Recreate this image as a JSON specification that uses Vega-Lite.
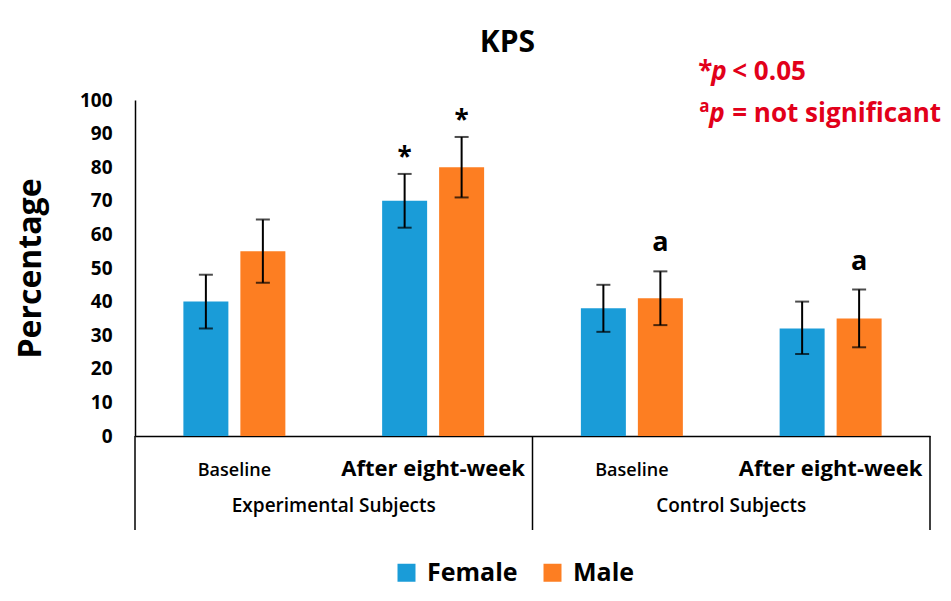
{
  "$schema": "https://vega.github.io/schema/vega-lite/v6.json",
  "width": 795,
  "height": 336,
  "autosize": {"type": "none"},
  "padding": {"left": 135, "top": 100, "right": 21, "bottom": 165},
  "background": "white",
  "config": {
    "font": "Open Sans",
    "view": {"stroke": null},
    "text": {"font": "Open Sans", "fontWeight": "bold", "color": "#000"},
    "axisY": {
      "titleFont": "Open Sans",
      "titleFontSize": 32,
      "titleFontWeight": "bold",
      "titleColor": "#000",
      "titlePadding": 32,
      "labelOverlap": false,
      "labelFont": "Open Sans",
      "labelFontSize": 19,
      "labelFontWeight": "bold",
      "labelColor": "#000",
      "labelPadding": 23,
      "ticks": false,
      "tickSize": 0,
      "grid": false,
      "domainColor": "#000",
      "domainWidth": 1.5
    }
  },
  "title": {
    "text": "KPS",
    "font": "Open Sans",
    "fontSize": 30,
    "fontWeight": "bold",
    "color": "#000",
    "dx": -25,
    "dy": 29,
    "offset": 30
  },
  "data": {
    "values": [
      {"group": "Experimental Subjects", "period": "Baseline", "slot": "Experimental Subjects|Baseline", "sex": "Female", "value": 40, "lo": 32, "hi": 48, "mark": ""},
      {"group": "Experimental Subjects", "period": "Baseline", "slot": "Experimental Subjects|Baseline", "sex": "Male", "value": 55, "lo": 45.6, "hi": 64.4, "mark": ""},
      {"group": "Experimental Subjects", "period": "After eight-week", "slot": "Experimental Subjects|After eight-week", "sex": "Female", "value": 70, "lo": 62, "hi": 78, "mark": "*"},
      {"group": "Experimental Subjects", "period": "After eight-week", "slot": "Experimental Subjects|After eight-week", "sex": "Male", "value": 80, "lo": 71, "hi": 89, "mark": "*"},
      {"group": "Control Subjects", "period": "Baseline", "slot": "Control Subjects|Baseline", "sex": "Female", "value": 38, "lo": 31, "hi": 45, "mark": ""},
      {"group": "Control Subjects", "period": "Baseline", "slot": "Control Subjects|Baseline", "sex": "Male", "value": 41, "lo": 33, "hi": 49, "mark": "a"},
      {"group": "Control Subjects", "period": "After eight-week", "slot": "Control Subjects|After eight-week", "sex": "Female", "value": 32, "lo": 24.4, "hi": 40, "mark": ""},
      {"group": "Control Subjects", "period": "After eight-week", "slot": "Control Subjects|After eight-week", "sex": "Male", "value": 35, "lo": 26.4, "hi": 43.6, "mark": "a"}
    ]
  },
  "encoding": {
    "x": {
      "field": "slot",
      "type": "nominal",
      "title": null,
      "scale": {
        "domain": [
          "Experimental Subjects|Baseline",
          "Experimental Subjects|After eight-week",
          "Control Subjects|Baseline",
          "Control Subjects|After eight-week"
        ],
        "paddingInner": 0,
        "paddingOuter": 0
      },
      "axis": {
        "title": null,
        "labelExpr": "split(datum.value, '|')[1]",
        "labelAngle": 0,
        "labelOverlap": false,
        "labelLimit": 400,
        "labelColor": "#000",
        "labelFont": "Open Sans",
        "labelFontSize": {"condition": {"test": "indexof(datum.value, 'After') >= 0", "value": 22}, "value": 18},
        "labelFontWeight": {"condition": {"test": "indexof(datum.value, 'After') >= 0", "value": "bold"}, "value": 600},
        "labelBaseline": "alphabetic",
        "labelPadding": 39,
        "ticks": false,
        "tickSize": 0,
        "domainColor": "#000",
        "domainWidth": 1.5
      }
    }
  },
  "layer": [
    {
      "mark": {"type": "bar"},
      "encoding": {
        "xOffset": {
          "field": "sex",
          "type": "nominal",
          "scale": {"domain": ["Female", "Male"], "paddingInner": 0.2105, "paddingOuter": 0.849}
        },
        "y": {
          "field": "value",
          "type": "quantitative",
          "scale": {"domain": [0, 100], "nice": false, "zero": true},
          "axis": {"title": "Percentage", "values": [0, 10, 20, 30, 40, 50, 60, 70, 80, 90, 100]}
        },
        "color": {
          "field": "sex",
          "type": "nominal",
          "scale": {"domain": ["Female", "Male"], "range": ["#1a9cd8", "#fd7e22"]},
          "legend": {
            "title": null,
            "orient": "none",
            "direction": "horizontal",
            "legendX": 259,
            "legendY": 460,
            "symbolType": "square",
            "symbolSize": 324,
            "symbolStrokeWidth": 0,
            "labelFont": "Open Sans",
            "labelFontSize": 25,
            "labelFontWeight": "bold",
            "labelColor": "#000",
            "labelOffset": 8,
            "columnPadding": 22
          }
        }
      }
    },
    {
      "mark": {"type": "rule", "color": "#000", "strokeWidth": 2},
      "encoding": {
        "xOffset": {"field": "sex", "type": "nominal"},
        "y": {"field": "lo", "type": "quantitative", "axis": {"title": "Percentage", "values": [0, 10, 20, 30, 40, 50, 60, 70, 80, 90, 100]}},
        "y2": {"field": "hi"}
      }
    },
    {
      "mark": {"type": "tick", "orient": "horizontal", "color": "#000", "size": 14, "thickness": 2},
      "encoding": {
        "xOffset": {"field": "sex", "type": "nominal"},
        "y": {"field": "lo", "type": "quantitative", "axis": {"title": "Percentage", "values": [0, 10, 20, 30, 40, 50, 60, 70, 80, 90, 100]}}
      }
    },
    {
      "mark": {"type": "tick", "orient": "horizontal", "color": "#000", "size": 14, "thickness": 2},
      "encoding": {
        "xOffset": {"field": "sex", "type": "nominal"},
        "y": {"field": "hi", "type": "quantitative", "axis": {"title": "Percentage", "values": [0, 10, 20, 30, 40, 50, 60, 70, 80, 90, 100]}}
      }
    },
    {
      "transform": [{"filter": "datum.mark == '*'"}],
      "mark": {"type": "text", "fontSize": 26, "fontWeight": "bold", "align": "center", "baseline": "alphabetic", "dy": -8},
      "encoding": {
        "xOffset": {"field": "sex", "type": "nominal"},
        "y": {"field": "hi", "type": "quantitative", "axis": {"title": "Percentage", "values": [0, 10, 20, 30, 40, 50, 60, 70, 80, 90, 100]}},
        "text": {"field": "mark"}
      }
    },
    {
      "transform": [{"filter": "datum.mark == 'a'"}],
      "mark": {"type": "text", "fontSize": 27, "fontWeight": "bold", "align": "center", "baseline": "alphabetic", "dy": -20},
      "encoding": {
        "xOffset": {"field": "sex", "type": "nominal"},
        "y": {"field": "hi", "type": "quantitative", "axis": {"title": "Percentage", "values": [0, 10, 20, 30, 40, 50, 60, 70, 80, 90, 100]}},
        "text": {"field": "mark"}
      }
    },
    {
      "data": {
        "values": [
          {"slot": "Experimental Subjects|After eight-week", "label": "Experimental Subjects"},
          {"slot": "Control Subjects|After eight-week", "label": "Control Subjects"}
        ]
      },
      "mark": {"type": "text", "fontSize": 19, "fontWeight": 600, "align": "center", "baseline": "alphabetic", "dy": 76},
      "encoding": {
        "x": {"field": "slot", "type": "nominal", "bandPosition": 0},
        "y": {"datum": 0, "type": "quantitative", "axis": {"title": "Percentage", "values": [0, 10, 20, 30, 40, 50, 60, 70, 80, 90, 100]}},
        "text": {"field": "label"}
      }
    },
    {
      "data": {
        "values": [
          {"slot": "Experimental Subjects|Baseline"},
          {"slot": "Control Subjects|Baseline"}
        ]
      },
      "mark": {"type": "rule", "color": "#000", "strokeWidth": 1.5, "y2Offset": 94},
      "encoding": {
        "x": {"field": "slot", "type": "nominal", "bandPosition": 0},
        "y": {"datum": 0, "type": "quantitative", "axis": {"title": "Percentage", "values": [0, 10, 20, 30, 40, 50, 60, 70, 80, 90, 100]}},
        "y2": {"datum": 0}
      }
    },
    {
      "data": {"values": [{"slot": "Control Subjects|After eight-week"}]},
      "mark": {"type": "rule", "color": "#000", "strokeWidth": 1.5, "y2Offset": 94},
      "encoding": {
        "x": {"field": "slot", "type": "nominal", "bandPosition": 1},
        "y": {"datum": 0, "type": "quantitative", "axis": {"title": "Percentage", "values": [0, 10, 20, 30, 40, 50, 60, 70, 80, 90, 100]}},
        "y2": {"datum": 0}
      }
    },
    {
      "data": {"values": [{"slot": "Control Subjects|After eight-week", "note": "*"}]},
      "mark": {"type": "text", "color": "#e2001a", "fontSize": 26, "fontWeight": "bold", "align": "left", "baseline": "alphabetic", "dx": -33, "dy": -20},
      "encoding": {
        "x": {"field": "slot", "type": "nominal", "bandPosition": 0},
        "y": {"datum": 100, "type": "quantitative", "axis": {"title": "Percentage", "values": [0, 10, 20, 30, 40, 50, 60, 70, 80, 90, 100]}},
        "text": {"field": "note"}
      }
    },
    {
      "data": {"values": [{"slot": "Control Subjects|After eight-week", "note": "p"}]},
      "mark": {"type": "text", "color": "#e2001a", "fontSize": 26, "fontWeight": "bold", "fontStyle": "italic", "align": "left", "baseline": "alphabetic", "dx": -20, "dy": -20},
      "encoding": {
        "x": {"field": "slot", "type": "nominal", "bandPosition": 0},
        "y": {"datum": 100, "type": "quantitative", "axis": {"title": "Percentage", "values": [0, 10, 20, 30, 40, 50, 60, 70, 80, 90, 100]}},
        "text": {"field": "note"}
      }
    },
    {
      "data": {"values": [{"slot": "Control Subjects|After eight-week", "note": "< 0.05"}]},
      "mark": {"type": "text", "color": "#e2001a", "fontSize": 26, "fontWeight": "bold", "align": "left", "baseline": "alphabetic", "dx": 1, "dy": -20},
      "encoding": {
        "x": {"field": "slot", "type": "nominal", "bandPosition": 0},
        "y": {"datum": 100, "type": "quantitative", "axis": {"title": "Percentage", "values": [0, 10, 20, 30, 40, 50, 60, 70, 80, 90, 100]}},
        "text": {"field": "note"}
      }
    },
    {
      "data": {"values": [{"slot": "Control Subjects|After eight-week", "note": "a"}]},
      "mark": {"type": "text", "color": "#e2001a", "fontSize": 17, "fontWeight": "bold", "align": "left", "baseline": "alphabetic", "dx": -32, "dy": 12},
      "encoding": {
        "x": {"field": "slot", "type": "nominal", "bandPosition": 0},
        "y": {"datum": 100, "type": "quantitative", "axis": {"title": "Percentage", "values": [0, 10, 20, 30, 40, 50, 60, 70, 80, 90, 100]}},
        "text": {"field": "note"}
      }
    },
    {
      "data": {"values": [{"slot": "Control Subjects|After eight-week", "note": "p"}]},
      "mark": {"type": "text", "color": "#e2001a", "fontSize": 26, "fontWeight": "bold", "fontStyle": "italic", "align": "left", "baseline": "alphabetic", "dx": -22, "dy": 22},
      "encoding": {
        "x": {"field": "slot", "type": "nominal", "bandPosition": 0},
        "y": {"datum": 100, "type": "quantitative", "axis": {"title": "Percentage", "values": [0, 10, 20, 30, 40, 50, 60, 70, 80, 90, 100]}},
        "text": {"field": "note"}
      }
    },
    {
      "data": {"values": [{"slot": "Control Subjects|After eight-week", "note": "= not significant"}]},
      "mark": {"type": "text", "color": "#e2001a", "fontSize": 26, "fontWeight": "bold", "align": "left", "baseline": "alphabetic", "dx": 1, "dy": 22},
      "encoding": {
        "x": {"field": "slot", "type": "nominal", "bandPosition": 0},
        "y": {"datum": 100, "type": "quantitative", "axis": {"title": "Percentage", "values": [0, 10, 20, 30, 40, 50, 60, 70, 80, 90, 100]}},
        "text": {"field": "note"}
      }
    }
  ]
}
